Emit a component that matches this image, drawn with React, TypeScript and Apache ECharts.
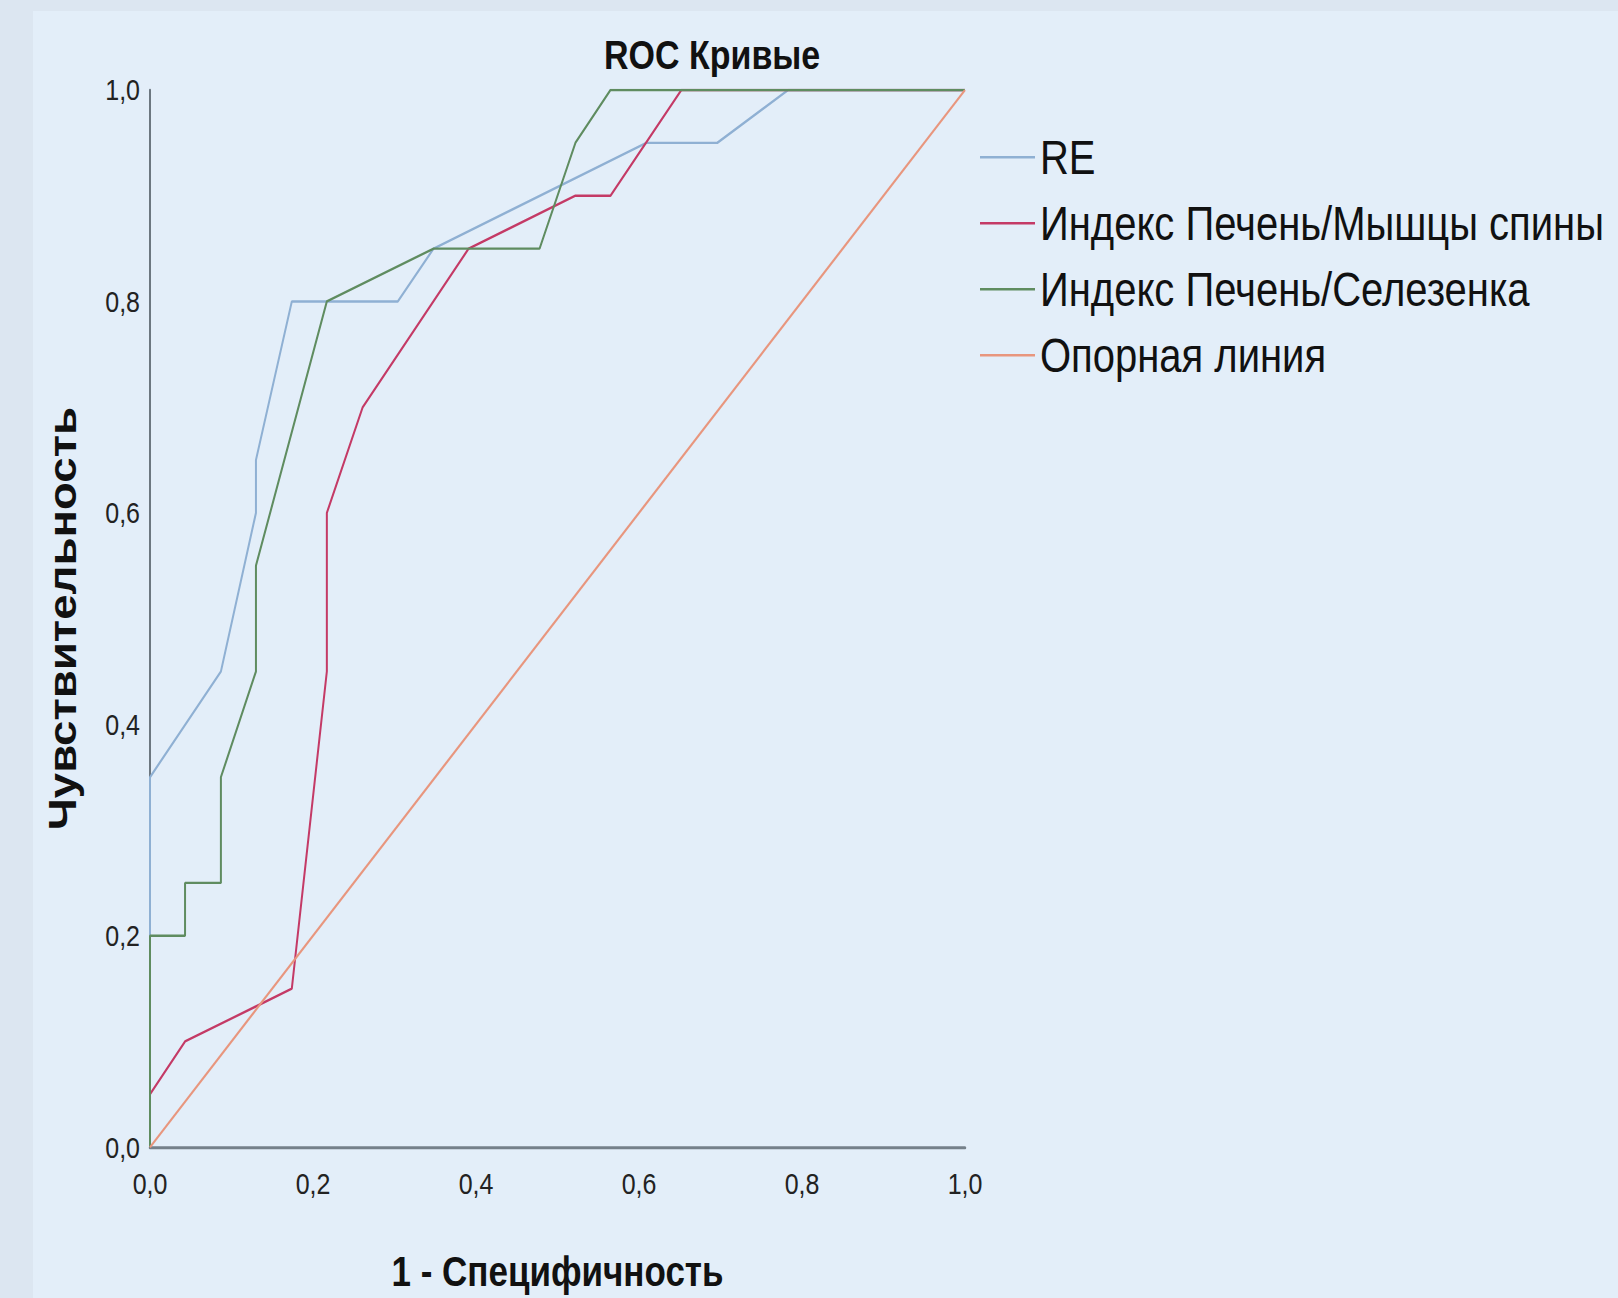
import React, { useEffect, useRef } from "react";
import * as echarts from "echarts";

const seriesNames = [
  "RE",
  "Индекс Печень/Мышцы спины",
  "Индекс Печень/Селезенка",
  "Опорная линия",
];

const reX = [0, 0, 0.087, 0.13, 0.13, 0.174, 0.304, 0.348, 0.609, 0.696, 0.783, 1];
const reY = [0, 0.35, 0.45, 0.6, 0.65, 0.8, 0.8, 0.85, 0.95, 0.95, 1, 1];

const liverMuscleX = [0, 0, 0.043, 0.174, 0.217, 0.217, 0.261, 0.391, 0.522, 0.565, 0.652, 1];
const liverMuscleY = [0, 0.05, 0.1, 0.15, 0.45, 0.6, 0.7, 0.85, 0.9, 0.9, 1, 1];

const liverSpleenX = [0, 0, 0.043, 0.043, 0.087, 0.087, 0.13, 0.13, 0.217, 0.348, 0.478, 0.522, 0.565, 1];
const liverSpleenY = [0, 0.2, 0.2, 0.25, 0.25, 0.35, 0.45, 0.55, 0.8, 0.85, 0.85, 0.95, 1, 1];

const refX = [0, 1];
const refY = [0, 1];

const tickLabels = ["0,0", "0,2", "0,4", "0,6", "0,8", "1,0"];

const colors = ["#8fb0d3", "#c43a66", "#5f8c60", "#e8967e"];

const FONT = "'Liberation Sans', Arial, Helvetica, sans-serif";

// the reference image is vertically stretched; reproduce by scaling the chart box
const STRETCH = 1.2;
const W = 1618;
const H = 1298 / STRETCH;

const zip = (xs: number[], ys: number[]) => xs.map((x, i) => [x, ys[i]]);
const fmt = (v: number) => tickLabels[Math.round(v / 0.2)] ?? "";

export default function App() {
  const ref = useRef<HTMLDivElement>(null);
  useEffect(() => {
    if (!ref.current) return;
    const chart = echarts.init(ref.current, undefined, { renderer: "svg" });
    const datasets = [
      zip(reX, reY),
      zip(liverMuscleX, liverMuscleY),
      zip(liverSpleenX, liverSpleenY),
      zip(refX, refY),
    ];
    chart.setOption({
      animation: false,
      backgroundColor: "#dce6f1",
      graphic: [
        {
          type: "rect",
          z: -10,
          silent: true,
          shape: { x: 33, y: 11 / STRETCH, width: W - 33, height: H },
          style: { fill: "#e3eef9" },
        },
      ],
      title: {
        text: "ROC Кривые",
        left: 604,
        top: 29,
        padding: 0,
        textStyle: { fontFamily: FONT, fontSize: 34, fontWeight: "bold", color: "#111" },
      },
      legend: {
        orient: "vertical",
        left: 980,
        top: 111,
        padding: 0,
        icon: "rect",
        itemWidth: 55,
        itemHeight: 2,
        itemGap: 15,
        data: seriesNames,
        textStyle: { fontFamily: FONT, fontSize: 40, lineHeight: 40, color: "#111" },
      },
      grid: { left: 150, right: W - 965, top: 75, bottom: H - 962.5, containLabel: false },
      xAxis: {
        type: "value",
        min: 0,
        max: 1,
        interval: 0.2,
        name: "1 - Специфичность",
        nameLocation: "middle",
        nameGap: 86,
        nameTextStyle: { fontFamily: FONT, fontSize: 35, fontWeight: "bold", color: "#111" },
        axisLine: { show: true, lineStyle: { color: "#75808a", width: 2.5 } },
        axisTick: { show: false },
        splitLine: { show: false },
        axisLabel: {
          formatter: fmt,
          fontFamily: FONT,
          fontSize: 25,
          color: "#222",
          margin: 18,
        },
      },
      yAxis: {
        type: "value",
        min: 0,
        max: 1,
        interval: 0.2,
        name: "Чувствительность",
        nameLocation: "middle",
        nameGap: 68,
        nameRotate: 90,
        nameTextStyle: { fontFamily: FONT, fontSize: 38, fontWeight: "bold", color: "#111" },
        axisLine: { show: true, lineStyle: { color: "#6c7780", width: 2 } },
        axisTick: { show: false },
        splitLine: { show: false },
        axisLabel: {
          formatter: fmt,
          fontFamily: FONT,
          fontSize: 25,
          color: "#222",
          margin: 10,
          padding: [14, 0, 0, 0],
        },
      },
      series: datasets.map((d, i) => ({
        name: seriesNames[i],
        type: "line",
        data: d,
        symbol: "none",
        showSymbol: false,
        color: colors[i],
        lineStyle: { color: colors[i], width: 2 },
        z: 2 + i,
      })),
    });
    return () => chart.dispose();
  }, []);
  return (
    <div
      style={{
        position: "fixed",
        left: 0,
        top: 0,
        width: W,
        height: 1298,
        overflow: "hidden",
        background: "#dce6f1",
      }}
    >
      <div
        ref={ref}
        style={{
          width: W,
          height: H,
          transform: `scaleY(${STRETCH})`,
          transformOrigin: "0 0",
        }}
      />
    </div>
  );
}
